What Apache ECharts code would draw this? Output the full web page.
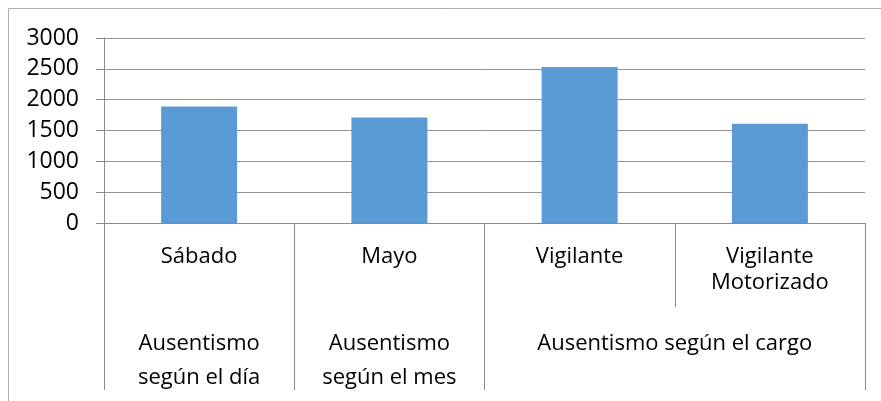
<!DOCTYPE html>
<html>
<head>
<meta charset="utf-8">
<script src="https://cdn.jsdelivr.net/npm/echarts@6/dist/echarts.min.js"></script>
<style>
  html, body { margin: 0; padding: 0; background: #fff; }
  #chart { width: 881px; height: 401px; }
</style>
</head>
<body>
<div id="chart"></div>
<script>
// categories (first level) and their groups (second level)
const categories = ['Sábado', 'Mayo', 'Vigilante', 'Vigilante\nMotorizado'];
const values = [1890, 1710, 2530, 1610];
const groupLabels = ['Ausentismo\nsegún el día', 'Ausentismo\nsegún el mes', 'Ausentismo según el cargo'];
// group centre / boundary positions in category units
const groupCenters = [0.5, 1.5, 3];
const groupBounds = [0, 1, 2, 4];
const yTicks = [0, 500, 1000, 1500, 2000, 2500, 3000];

const font = 'Open Sans';
const axisGray = '#8a8a8a';

const chart = echarts.init(document.getElementById('chart'));
chart.setOption({
    backgroundColor: '#fff',
    animation: false,
    grid: { left: 104, right: 16, top: 38, bottom: 178 },
    graphic: [{
        type: 'polyline',
        shape: { points: [[8.5, 401], [8.5, 8.5], [881, 8.5]] },
        style: { stroke: '#adadad', lineWidth: 1, fill: null },
        silent: true
    }],
    xAxis: [
        {
            type: 'category',
            data: categories,
            position: 'bottom',
            axisLine: { lineStyle: { color: axisGray } },
            axisTick: { show: true, length: 84, alignWithLabel: false, lineStyle: { color: axisGray } },
            axisLabel: {
                interval: 0, margin: 21, color: '#000',
                fontFamily: font, fontSize: 22, lineHeight: 26
            }
        },
        {
            type: 'value',
            min: 0, max: 4,
            position: 'bottom',
            offset: 84,
            splitLine: { show: false },
            axisLine: { show: false },
            axisTick: { show: true, length: 83, customValues: groupBounds, lineStyle: { color: axisGray } },
            axisLabel: {
                customValues: groupCenters, margin: 20, color: '#000',
                fontFamily: font, fontSize: 22, lineHeight: 34,
                formatter: function (v) {
                    const i = groupCenters.indexOf(v);
                    return i >= 0 ? groupLabels[i] : '';
                }
            }
        }
    ],
    yAxis: {
        type: 'value',
        min: yTicks[0],
        max: yTicks[yTicks.length - 1],
        interval: 500,
        axisLine: { show: true, lineStyle: { color: axisGray } },
        axisTick: { show: true, length: 8, lineStyle: { color: axisGray } },
        splitLine: { lineStyle: { color: '#939393' } },
        axisLabel: {
            margin: 25, color: '#000', fontFamily: font, fontSize: 23,
            formatter: function (v) { return String(v); }
        }
    },
    series: [{
        type: 'bar',
        xAxisIndex: 0,
        data: values,
        barWidth: 76,
        itemStyle: { color: '#5b9bd5' }
    }]
});
</script>
</body>
</html>
